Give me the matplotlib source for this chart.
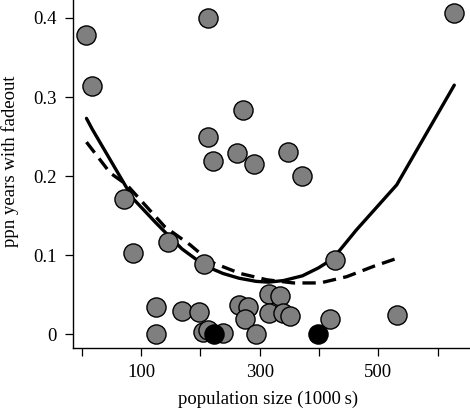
import matplotlib
matplotlib.use("Agg")
import matplotlib.pyplot as plt

# data
pop_grey = [8, 18, 213, 628, 272, 213, 221, 261, 290, 348, 372, 72, 86, 146, 206, 427,
            125, 125, 169, 198, 205, 213, 238, 265, 281, 275, 294, 315, 334, 315, 340,
            351, 418, 531]
ppn_grey = [0.378, 0.314, 0.400, 0.406, 0.283, 0.250, 0.219, 0.229, 0.215, 0.231, 0.200,
            0.171, 0.103, 0.117, 0.089, 0.094, 0.034, 0.001, 0.029, 0.028, 0.003, 0.005,
            0.002, 0.037, 0.035, 0.019, 0.000, 0.051, 0.048, 0.027, 0.027, 0.023, 0.019,
            0.024]
pop_black = [223, 399]
ppn_black = [0.0, 0.0]

fit_x = [8, 18, 72, 86, 125, 146, 169, 198, 213, 238, 265, 294, 315, 340, 372, 399,
         418, 427, 463, 531, 628]
fit_y = [0.273, 0.259, 0.190, 0.172, 0.141, 0.125, 0.108, 0.092, 0.085, 0.077, 0.071,
         0.067, 0.066, 0.068, 0.074, 0.084, 0.093, 0.099, 0.132, 0.189, 0.315]

alt_x = [8, 48, 76, 140, 183, 216, 267, 312, 357, 402, 447, 492, 531]
alt_y = [0.243, 0.204, 0.189, 0.136, 0.113, 0.092, 0.077, 0.069, 0.065, 0.065, 0.073,
         0.086, 0.096]

xticks = [0, 100, 200, 300, 400, 500, 600]
xlabels = ['', '100', '', '300', '', '500', '']
yticks = [0, 0.1, 0.2, 0.3, 0.4]
ylabels = ['0', '0.1', '0.2', '0.3', '0.4']

plt.rcParams['font.family'] = ['Liberation Serif', 'DejaVu Serif']

fig = plt.figure(figsize=(4.70, 4.13), dpi=100)
ax = fig.add_axes([0.1547, 0.158, 0.8453, 0.842])

ax.plot(fit_x, fit_y, color='black', lw=2.4, solid_capstyle='round', zorder=3)
ax.plot(alt_x, alt_y, color='black', lw=2.4, dashes=(4.0, 2.2), zorder=3)
ax.scatter(pop_grey, ppn_grey, s=190, c='#7f7f7f', edgecolors='black', linewidths=1.0, zorder=4)
ax.scatter(pop_black, ppn_black, s=190, c='black', edgecolors='black', linewidths=1.0, zorder=5)

ax.set_xlim(-15.2, 654.5)
ax.set_ylim(-0.0169, 0.4226)
ax.spines['top'].set_visible(False)
ax.spines['right'].set_visible(False)
ax.spines['left'].set_linewidth(1.0)
ax.spines['bottom'].set_linewidth(1.0)

ax.set_xticks(xticks)
ax.set_xticklabels(xlabels)
ax.set_yticks(yticks)
ax.set_yticklabels(ylabels)
ax.tick_params(direction='out', length=6, width=0.9, labelsize=13.5)
ax.tick_params(axis='y', pad=5.5)
ax.tick_params(axis='x', pad=6)

ax.set_xlabel('population size (1000\u2009s)', fontsize=13.5)
ax.set_ylabel('ppn years with fadeout', fontsize=13.5)
ax.xaxis.set_label_coords(0.492, -0.124)
ax.yaxis.set_label_coords(-0.136, 0.537)

fig.savefig('out.png', dpi=100)
